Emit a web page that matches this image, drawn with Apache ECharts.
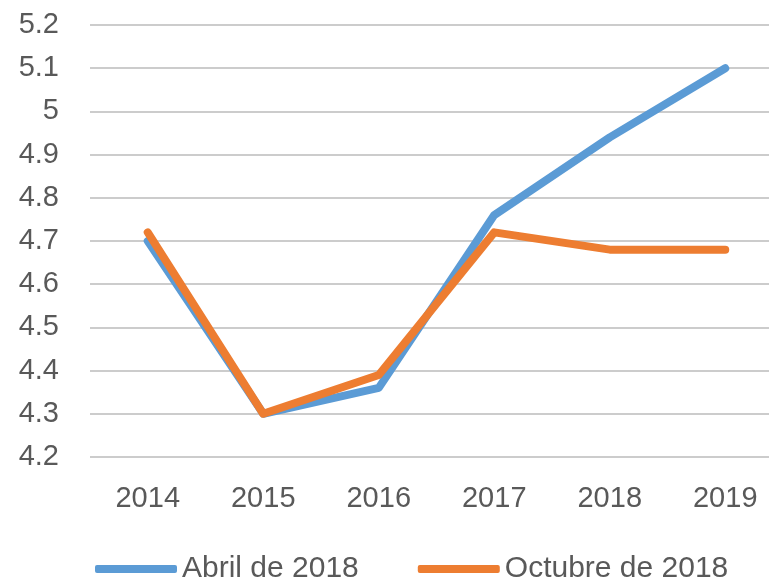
<!DOCTYPE html>
<html>
<head>
<meta charset="utf-8">
<script src="https://cdn.jsdelivr.net/npm/echarts@6/dist/echarts.min.js"></script>
<style>
html,body{margin:0;padding:0;background:#fff;}
#chart{width:769px;height:580px;}
</style>
</head>
<body>
<div id="chart"></div>
<script>
var categories = ['2014', '2015', '2016', '2017', '2018', '2019'];
var abril = [4.70, 4.30, 4.36, 4.76, 4.94, 5.10];
var octubre = [4.72, 4.30, 4.39, 4.72, 4.68, 4.68];
var seriesNames = ['Abril de 2018', 'Octubre de 2018'];

var font = 'Liberation Sans';
var chart = echarts.init(document.getElementById('chart'), null, {renderer: 'canvas'});
chart.setOption({
  backgroundColor: '#ffffff',
  animation: false,
  grid: {left: 90, top: 25, height: 432, width: 693, containLabel: false, outerBoundsMode: 'none'},
  legend: {
    left: 90, top: 549,
    itemWidth: 82, itemHeight: 8, itemGap: 59,
    icon: 'roundRect',
    textStyle: {fontFamily: font, fontSize: 30, color: '#595959'},
    data: seriesNames
  },
  xAxis: {
    type: 'category',
    data: categories,
    boundaryGap: true,
    axisLine: {show: false},
    axisTick: {show: false},
    axisLabel: {margin: 27, fontFamily: font, fontSize: 29, color: '#595959'}
  },
  yAxis: {
    type: 'value',
    min: 4.2, max: 5.2, interval: 0.1,
    axisLine: {show: false},
    axisTick: {show: false},
    axisLabel: {
      margin: 31, fontFamily: font, fontSize: 29, color: '#595959',
      formatter: function (v) { return String(Math.round(v * 10) / 10); }
    },
    splitLine: {show: true, lineStyle: {color: '#cccccc', width: 2}}
  },
  series: [
    {
      name: seriesNames[0], type: 'line', data: abril,
      showSymbol: false, symbol: 'none',
      lineStyle: {color: '#5b9bd5', width: 8, cap: 'round', join: 'round'},
      itemStyle: {color: '#5b9bd5'}
    },
    {
      name: seriesNames[1], type: 'line', data: octubre,
      showSymbol: false, symbol: 'none',
      lineStyle: {color: '#ed7d31', width: 8, cap: 'round', join: 'round'},
      itemStyle: {color: '#ed7d31'}
    }
  ]
});
</script>
</body>
</html>
